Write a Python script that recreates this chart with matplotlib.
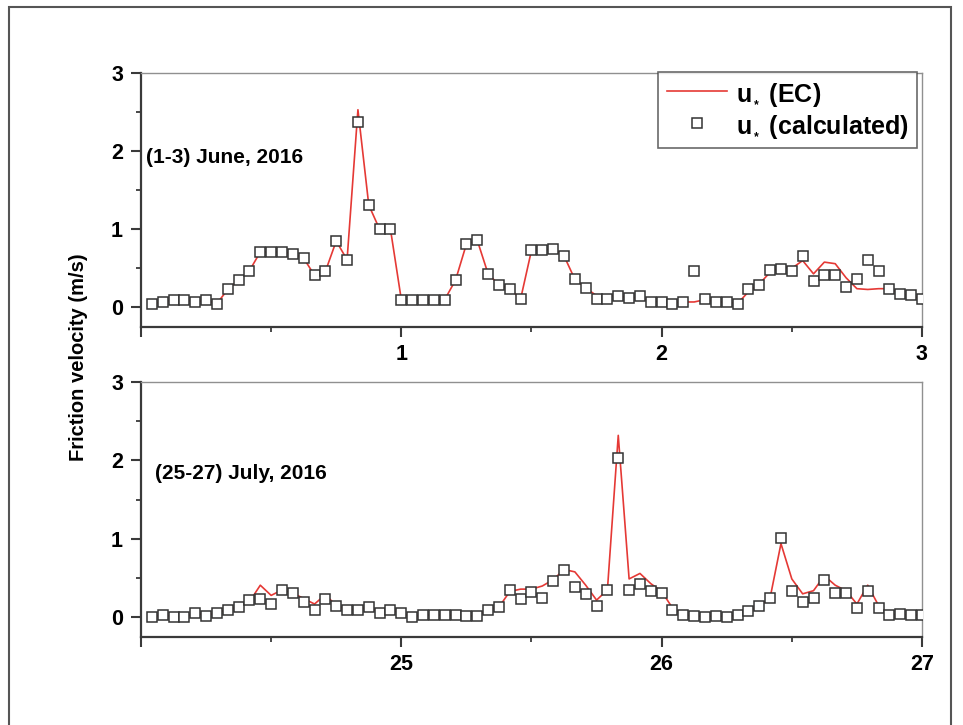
import numpy as np
import matplotlib
matplotlib.use("Agg")
import matplotlib.pyplot as plt
import matplotlib.patches as patches
from matplotlib.ticker import MultipleLocator, FuncFormatter

plt.rcParams['font.family'] = ['Liberation Sans', 'DejaVu Sans']
plt.rcParams['font.weight'] = 'bold'
plt.rcParams['mathtext.fontset'] = 'custom'
plt.rcParams['mathtext.rm'] = 'Liberation Sans:bold'
plt.rcParams['mathtext.it'] = 'Liberation Sans:bold'
plt.rcParams['mathtext.bf'] = 'Liberation Sans:bold'

# hourly samples, 72 per 3-day window
hours = np.arange(1, 73)

# (1-3) June, 2016
june_calc = [0.05, 0.07, 0.10, 0.10, 0.07, 0.09, 0.05, 0.23, 0.35, 0.47, 0.71, 0.71,
             0.71, 0.69, 0.63, 0.41, 0.46, 0.85, 0.61, 2.37, 1.31, 1.00, 1.00, 0.10,
             0.10, 0.10, 0.10, 0.10, 0.35, 0.81, 0.86, 0.43, 0.29, 0.24, 0.11, 0.73,
             0.73, 0.75, 0.66, 0.36, 0.25, 0.11, 0.11, 0.14, 0.12, 0.14, 0.07, 0.07,
             0.05, 0.07, 0.46, 0.11, 0.07, 0.07, 0.05, 0.23, 0.29, 0.48, 0.49, 0.46,
             0.66, 0.34, 0.42, 0.41, 0.26, 0.37, 0.61, 0.46, 0.24, 0.17, 0.16, 0.11]
june_ec = [0.05, 0.07, 0.10, 0.10, 0.07, 0.09, 0.05, 0.23, 0.35, 0.47, 0.71, 0.71,
           0.71, 0.69, 0.63, 0.41, 0.46, 0.85, 0.61, 2.53, 1.31, 1.00, 1.00, 0.10,
           0.10, 0.10, 0.10, 0.10, 0.35, 0.81, 0.86, 0.43, 0.29, 0.24, 0.11, 0.73,
           0.73, 0.75, 0.66, 0.36, 0.25, 0.15, 0.16, 0.14, 0.13, 0.12, 0.08, 0.07,
           0.06, 0.07, 0.07, 0.10, 0.07, 0.07, 0.05, 0.20, 0.30, 0.45, 0.52, 0.50,
           0.60, 0.43, 0.58, 0.56, 0.38, 0.24, 0.23, 0.24, 0.24, 0.18, 0.15, 0.11]

# (25-27) July, 2016
july_calc = [0.01, 0.03, 0.01, 0.00, 0.06, 0.02, 0.06, 0.10, 0.13, 0.22, 0.24, 0.17,
             0.35, 0.31, 0.20, 0.10, 0.23, 0.15, 0.10, 0.10, 0.13, 0.06, 0.10, 0.05,
             0.01, 0.03, 0.03, 0.03, 0.03, 0.02, 0.02, 0.10, 0.13, 0.35, 0.24, 0.32,
             0.25, 0.46, 0.61, 0.39, 0.30, 0.14, 0.35, 2.03, 0.35, 0.42, 0.34, 0.31,
             0.10, 0.03, 0.02, 0.01, 0.02, 0.01, 0.03, 0.08, 0.14, 0.25, 1.01, 0.33,
             0.20, 0.25, 0.47, 0.31, 0.31, 0.12, 0.34, 0.12, 0.03, 0.04, 0.03, 0.03]
july_ec = [0.01, 0.03, 0.01, 0.00, 0.06, 0.02, 0.06, 0.10, 0.13, 0.20, 0.41, 0.28,
           0.35, 0.31, 0.24, 0.17, 0.29, 0.15, 0.10, 0.10, 0.13, 0.06, 0.10, 0.05,
           0.01, 0.03, 0.03, 0.03, 0.03, 0.02, 0.02, 0.10, 0.13, 0.33, 0.36, 0.36,
           0.40, 0.48, 0.61, 0.58, 0.41, 0.22, 0.35, 2.32, 0.49, 0.56, 0.43, 0.33,
           0.12, 0.03, 0.02, 0.01, 0.02, 0.01, 0.03, 0.08, 0.14, 0.25, 0.94, 0.49,
           0.30, 0.34, 0.53, 0.41, 0.34, 0.17, 0.41, 0.15, 0.03, 0.04, 0.03, 0.03]

panels = [
    (0, june_ec, june_calc, '(1-3) June, 2016', (0.02, 1.92)),
    (24, july_ec, july_calc, '(25-27) July, 2016', (24.054, 1.84)),
]

fig = plt.figure(figsize=(9.63, 7.25), dpi=100)
ax_top = fig.add_axes([0.1464, 0.549, 0.811, 0.3503])
ax_bot = fig.add_axes([0.1464, 0.1214, 0.811, 0.3517])

for ax, (day0, ec, calc, label, pos) in zip([ax_top, ax_bot], panels):
    x = day0 + hours / 24.0
    ax.plot(x, ec, color='#e53935', lw=1.2, zorder=2, label=r'u$_{_*}$ (EC)')
    ax.plot(x, calc, ls='none', marker='s', ms=7, mfc='white', mec='#333333',
            mew=1.1, zorder=3, label=r'u$_{_*}$ (calculated)')
    ax.set_xlim(day0, day0 + 3)
    ax.set_ylim(-0.25, 3)
    ax.xaxis.set_major_locator(MultipleLocator(1))
    ax.xaxis.set_minor_locator(MultipleLocator(0.5))
    ax.yaxis.set_major_locator(MultipleLocator(1))
    ax.yaxis.set_minor_locator(MultipleLocator(0.5))
    ax.xaxis.set_major_formatter(FuncFormatter(
        lambda v, p, d=day0: '' if abs(v - d) < 1e-6 else '%d' % round(v)))
    ax.tick_params(which='major', direction='out', length=7, width=1.5,
                   labelsize=15.5, pad=5, color='#3a3a3a')
    ax.tick_params(which='minor', direction='out', length=3.5, width=1.3,
                   color='#3a3a3a')
    ax.tick_params(axis='y', which='major', pad=6)
    for s in ['left', 'bottom']:
        ax.spines[s].set_color('#3a3a3a')
        ax.spines[s].set_linewidth(1.6)
    for s in ['top', 'right']:
        ax.spines[s].set_color('#909090')
        ax.spines[s].set_linewidth(1.0)
    ax.text(pos[0], pos[1], label, fontsize=15, fontweight='bold', va='center',
            ha='left')

leg = ax_top.legend(loc='upper right', bbox_to_anchor=(0.9936, 1.004),
                    borderaxespad=0, fontsize=18, frameon=True, fancybox=False,
                    handlelength=2.4, handletextpad=0.35, borderpad=0.35,
                    labelspacing=0.25)
leg.get_frame().set_edgecolor('#444444')
leg.get_frame().set_linewidth(1.2)

fig.text(0.081, 0.507, 'Friction velocity (m/s)', rotation=90, ha='center',
         va='center', fontsize=14.5, fontweight='bold')

# outer frame around the figure
fig.add_artist(patches.Rectangle((0.0093, -0.05), 0.9782, 1.04, transform=fig.transFigure,
                                 fill=False, ec='#555555', lw=1.5))

fig.savefig('out.png', dpi=100)
